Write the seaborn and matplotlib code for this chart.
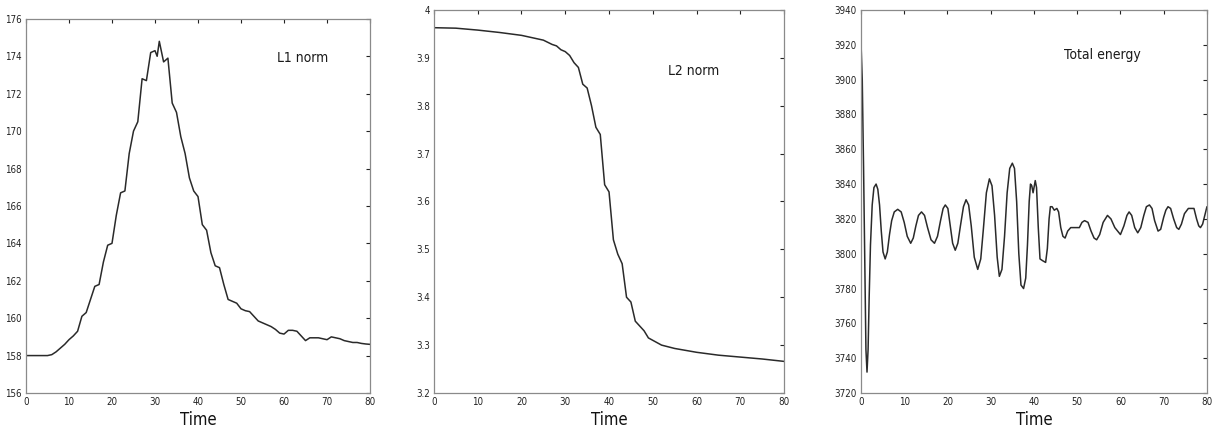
from matplotlib import pyplot as plt
import pandas as pd
import seaborn as sns

# L1 norm
t_l1 = [0, 1, 2, 3, 4, 5, 6, 7, 8, 9, 10, 11, 12, 13, 14, 15, 16, 17, 18, 19,
        20, 21, 22, 23, 24, 25, 26, 27, 28, 29, 30, 30.5, 31, 32, 33, 34, 35,
        36, 37, 38, 39, 40, 41, 42, 43, 44, 45, 46, 47, 48, 49, 50, 51, 52,
        53, 54, 55, 56, 57, 58, 59, 60, 61, 62, 63, 64, 65, 66, 67, 68, 69,
        70, 71, 72, 73, 74, 75, 76, 77, 78, 79, 80]
l1 = [158.0, 158.0, 158.0, 158.0, 158.0, 158.0, 158.05, 158.2, 158.4, 158.6,
      158.85, 159.05, 159.3, 160.1, 160.3, 161.0, 161.7, 161.8, 163.0, 163.9,
      164.0, 165.5, 166.7, 166.8, 168.8, 170.0, 170.5, 172.8, 172.7, 174.2,
      174.3, 174.0, 174.8, 173.7, 173.9, 171.5, 171.0, 169.7, 168.8, 167.5,
      166.8, 166.5, 165.0, 164.7, 163.5, 162.8, 162.7, 161.8, 161.0, 160.9,
      160.8, 160.5, 160.4, 160.35, 160.1, 159.85, 159.75, 159.65, 159.55,
      159.4, 159.2, 159.15, 159.35, 159.35, 159.3, 159.05, 158.8, 158.95,
      158.95, 158.95, 158.9, 158.85, 159.0, 158.95, 158.9, 158.8, 158.75,
      158.7, 158.7, 158.65, 158.62, 158.6]

# L2 norm
t_l2 = [0, 5, 10, 15, 20, 22, 25, 27, 28, 29, 30, 31, 32, 33, 34, 35, 36, 37,
        38, 39, 40, 41, 42, 43, 44, 45, 46, 47, 48, 49, 50, 51, 52, 55, 60,
        65, 70, 75, 80]
l2 = [3.963, 3.962, 3.958, 3.953, 3.947, 3.943, 3.937, 3.928, 3.925, 3.917,
      3.913, 3.905, 3.89, 3.88, 3.845, 3.837, 3.80, 3.755, 3.74, 3.635, 3.62,
      3.52, 3.49, 3.47, 3.40, 3.39, 3.35, 3.34, 3.33, 3.315, 3.31, 3.305,
      3.30, 3.293, 3.285, 3.279, 3.275, 3.271, 3.266]

# Total energy
t_en = [0, 0.3, 0.6, 0.9, 1.15, 1.4, 1.65, 1.9, 2.2, 2.6, 3.0, 3.5, 3.9, 4.3,
        4.7, 5.1, 5.6, 6.1, 6.6, 7.1, 7.7, 8.5, 9.3, 10.0, 10.7, 11.5, 12.1,
        12.7, 13.3, 14.0, 14.7, 15.4, 16.2, 17.0, 17.7, 18.4, 19.0, 19.5,
        20.1, 20.6, 21.2, 21.8, 22.4, 23.0, 23.7, 24.3, 24.9, 25.5, 26.2,
        27.0, 27.7, 28.3, 29.0, 29.7, 30.3, 30.9, 31.5, 32.0, 32.6, 33.2,
        33.8, 34.4, 35.0, 35.5, 36.0, 36.5, 37.0, 37.6, 38.1, 38.5, 38.9,
        39.2, 39.5, 39.8, 40.1, 40.3, 40.6, 41.0, 41.4, 42.0, 42.7, 43.1,
        43.5, 43.8, 44.2, 44.7, 45.3, 45.7, 46.2, 46.7, 47.2, 47.8, 48.5,
        49.5, 50.5, 51.1, 51.7, 52.5, 53.2, 53.9, 54.5, 55.2, 56.0, 57.0,
        57.8, 58.7, 60.0, 60.8, 61.5, 62.0, 62.6, 63.3, 64.0, 64.7, 65.4,
        66.0, 66.7, 67.3, 67.9, 68.7, 69.3, 70.0, 70.5, 71.0, 71.6, 72.3,
        73.0, 73.5, 74.1, 74.8, 75.7, 76.4, 77.0, 77.6, 78.1, 78.5, 79.0,
        79.5, 80.0]
energy = [3922, 3900, 3850, 3790, 3745, 3732, 3745, 3775, 3805, 3828, 3838,
          3840, 3837, 3828, 3813, 3801, 3797, 3801, 3811, 3819, 3824, 3825.5,
          3824, 3818, 3810, 3806, 3809, 3816, 3822, 3824, 3822, 3815, 3808,
          3806, 3810, 3819, 3826, 3828, 3826, 3817, 3806, 3802, 3806, 3816,
          3827, 3831, 3828, 3816, 3798, 3791, 3797, 3814, 3835, 3843, 3839,
          3822, 3798, 3787, 3791, 3810, 3835, 3849, 3852, 3849, 3830, 3800,
          3782, 3780, 3786, 3805, 3830, 3840, 3839, 3835, 3839, 3842, 3838,
          3815, 3797, 3796, 3795, 3803, 3820, 3827, 3827, 3825, 3826, 3824,
          3815, 3810, 3809, 3813, 3815, 3815, 3815, 3818, 3819, 3818, 3813,
          3809, 3808, 3811, 3818, 3822, 3820, 3815, 3811, 3816, 3822, 3824,
          3822, 3815, 3812, 3815, 3822, 3827, 3828, 3826, 3819, 3813, 3814,
          3821, 3825, 3827, 3826, 3820, 3815, 3814, 3817, 3823, 3826, 3826,
          3826, 3820, 3816, 3815, 3817, 3822, 3827]

x_ticks = [0, 10, 20, 30, 40, 50, 60, 70, 80]

panels = [
    (t_l1, l1, "L1 norm", (156, 176), [156 + 2 * i for i in range(11)],
     (58.3, 173.9), [0.0213, 0.0945, 0.282, 0.862]),
    (t_l2, l2, "L2 norm", (3.2, 4.0), [3.2, 3.3, 3.4, 3.5, 3.6, 3.7, 3.8, 3.9, 4.0],
     (53.5, 3.873), [0.3557, 0.0945, 0.287, 0.8825]),
    (t_en, energy, "Total energy", (3720, 3940), [3720 + 20 * i for i in range(12)],
     (46.9, 3914), [0.7057, 0.0945, 0.2836, 0.8825]),
]

sns.set_style("white")
plt.rcParams['font.family'] = ['DejaVu Sans']
plt.rcParams['font.stretch'] = 'condensed'

fig = plt.figure(figsize=(12.2, 4.34), dpi=100)

for t, y, name, ylim, yticks, txt, rect in panels:
    ax = fig.add_axes(rect)
    df = pd.DataFrame({"Time": t, "value": y})
    sns.lineplot(data=df, x="Time", y="value", ax=ax, color="#2a2a2a",
                 linewidth=1.1)
    ax.set_xlim(0, 80)
    ax.set_ylim(*ylim)
    ax.set_xticks(x_ticks)
    ax.set_yticks(yticks)
    ax.set_yticklabels(["{:g}".format(v) for v in yticks])
    ax.tick_params(direction="in", length=3, width=0.8, labelsize=7,
                   top=True, right=True, colors="#222222", pad=3)
    for s in ax.spines.values():
        s.set_color("#8a8a8a")
        s.set_linewidth(0.9)
    ax.set_xlabel("Time", fontsize=12, labelpad=3, color="#111111")
    ax.set_ylabel("")
    ax.text(txt[0], txt[1], name, fontsize=10, va="center", ha="left",
            color="#1a1a1a")

fig.savefig("out.png", dpi=100)
